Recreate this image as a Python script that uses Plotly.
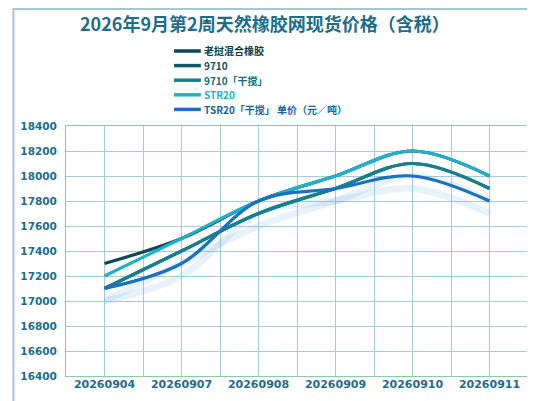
import plotly.graph_objects as go

# data
dates = ['20260904', '20260907', '20260908', '20260909', '20260910', '20260911']
laowo = [17300, 17500, 17800, 18000, 18200, 18000]
p9710 = [17100, 17400, 17700, 17900, 18100, 17900]
p9710_gj = [17100, 17400, 17700, 17900, 18100, 17900]
str20 = [17200, 17500, 17800, 18000, 18200, 18000]
tsr20 = [17100, 17300, 17800, 17900, 18000, 17800]

names = ['老挝混合橡胶', '9710', '9710「干搅」', 'STR20', 'TSR20「干搅」 单价（元／吨）']
series = [laowo, p9710, p9710_gj, str20, tsr20]
line_colors = ['#0d4853', '#0f5a67', '#17808f', '#20b1cc', '#1b70bf']
text_colors = ['#0c3b47', '#0e5363', '#146b7c', '#1cb3d0', '#1765a8']

W, H = 535, 401
L, R, T, B = 54, 15, 118, 33
pw, ph = W - L - R, H - T - B

def px_x(v):
    return (v - L) / pw

def px_y(v):
    return (H - B - v) / ph

x = list(range(len(dates)))
fig = go.Figure()

# soft shadow under the lower lines
for vals in [p9710_gj, tsr20]:
    fig.add_trace(go.Scatter(x=x, y=[v - 100 for v in vals], mode='lines',
                             line=dict(color='rgba(120,170,215,0.16)', width=7, shape='spline', smoothing=1),
                             hoverinfo='skip', showlegend=False))

for name, vals, c in zip(names, series, line_colors):
    fig.add_trace(go.Scatter(x=x, y=vals, mode='lines', name=name,
                             line=dict(color=c, width=3.2, shape='spline', smoothing=1),
                             showlegend=False))

shapes = []
annotations = []

# hand made legend (tighter than plotly's own)
for i, (name, lc, tc) in enumerate(zip(names, line_colors, text_colors)):
    yy = px_y(43 + i * 14.6)
    shapes.append(dict(type='line', xref='paper', yref='paper', x0=px_x(163), x1=px_x(190), y0=yy, y1=yy,
                       line=dict(color=lc, width=3.5)))
    annotations.append(dict(xref='paper', yref='paper', x=px_x(192), y=yy, xanchor='left', yanchor='middle',
                            text=name, showarrow=False, borderpad=0,
                            font=dict(family='Noto Sans CJK SC, DejaVu Sans', size=10, color=tc, weight='bold')))

# outer frame
shapes.append(dict(type='rect', xref='paper', yref='paper', x0=px_x(1), x1=px_x(531), y0=px_y(1), y1=px_y(399),
                   line=dict(color='#a8c6d3', width=2), layer='below'))

fig.update_layout(
    width=W, height=H,
    margin=dict(l=L, r=R, t=T, b=B),
    paper_bgcolor='white', plot_bgcolor='white',
    title=dict(text='2026年9月第2周天然橡胶网现货价格（含税）', x=0.48, xanchor='center', y=1 - 17 / H, yanchor='middle',
               font=dict(family='Noto Sans CJK SC', size=18, color='#1c6d88', weight='bold')),
    shapes=shapes, annotations=annotations,
)

fig.update_xaxes(range=[-0.5, 5.5], tickmode='array', tickvals=x, ticktext=dates,
                 showgrid=True, gridcolor='#a6cbd2', gridwidth=1,
                 minor=dict(tickmode='linear', tick0=0.5, dtick=1, showgrid=True, gridcolor='#a6cbd2'),
                 showline=True, linecolor='#8ccaa3', mirror=True, zeroline=False, ticklabelstandoff=-2,
                 tickfont=dict(family='DejaVu Sans', size=11, color='#1b6e8c', weight='bold'))
fig.update_yaxes(range=[16400, 18400], dtick=200, tickformat='d', showgrid=True, gridcolor='#a6cbd2', gridwidth=1,
                 showline=True, linecolor='#8ccaa3', mirror=True, zeroline=False, ticklabelstandoff=6,
                 tickfont=dict(family='DejaVu Sans', size=10.5, color='#1b6e8c', weight='bold'))

fig.write_html('out.html')
